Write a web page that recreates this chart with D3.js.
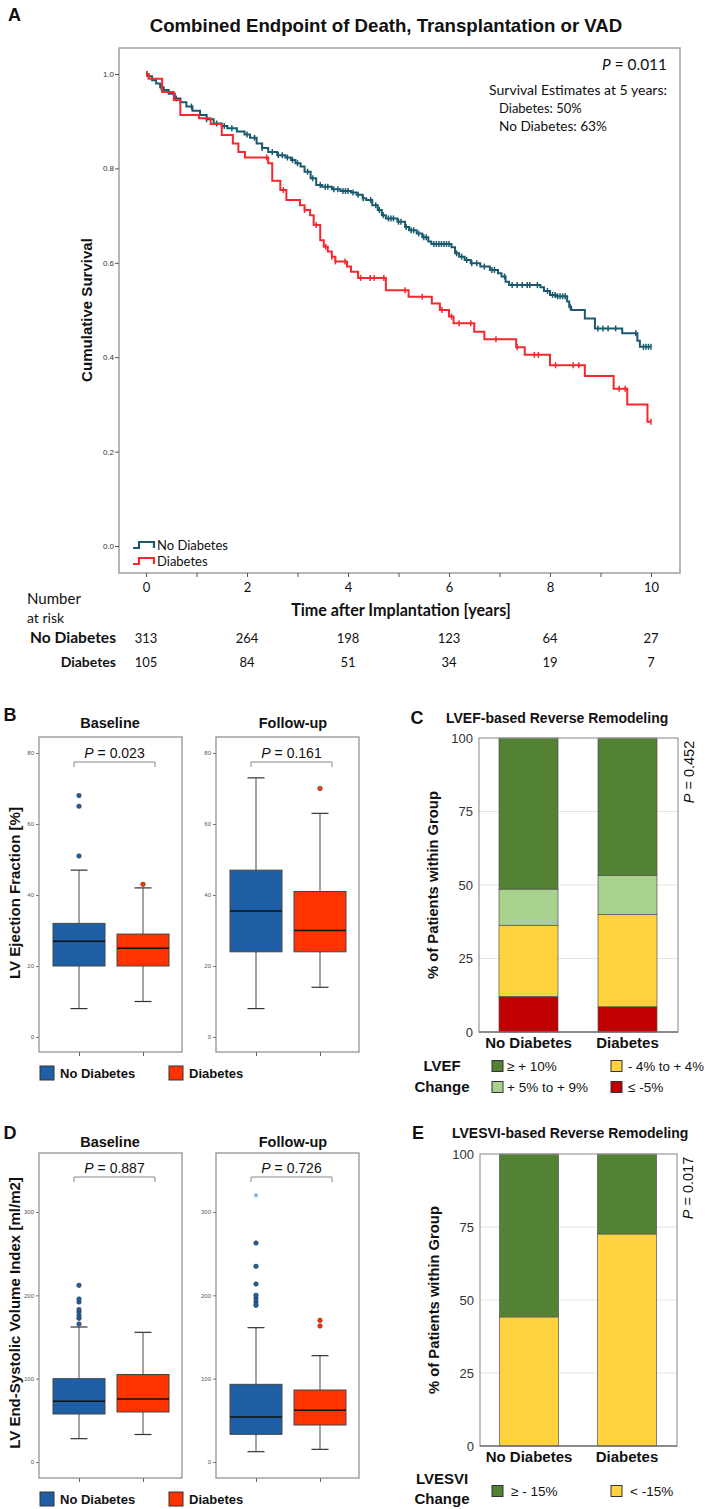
<!DOCTYPE html>
<html><head><meta charset="utf-8">
<script src="https://cdn.jsdelivr.net/npm/d3@7"></script>
<style>body{margin:0;background:#fff} svg{display:block}</style>
</head><body>
<svg id="c" width="709" height="1509"></svg>
<script>
// ================= DATA =================
// Panel A: Kaplan-Meier
const kmTimeTicks = [0,1,2,3,4,5,6,7,8,9,10];
const kmSurvTicks = [0,0.2,0.4,0.6,0.8,1.0];
const kmEnd = 10;
const kmNoDiabSteps = [[0,1.0],[0.05,0.995],[0.12,0.987],[0.2,0.98],[0.28,0.972],[0.35,0.966],[0.45,0.958],[0.57,0.948],[0.68,0.94],[0.8,0.931],[0.92,0.922],[1.07,0.913],[1.2,0.904],[1.34,0.895],[1.5,0.89],[1.61,0.885],[1.8,0.878],[1.95,0.872],[2.06,0.865],[2.19,0.853],[2.3,0.843],[2.42,0.835],[2.6,0.828],[2.76,0.823],[2.87,0.818],[2.96,0.811],[3.06,0.804],[3.14,0.793],[3.26,0.779],[3.37,0.765],[3.49,0.761],[3.68,0.756],[3.85,0.752],[4.06,0.749],[4.17,0.744],[4.29,0.737],[4.36,0.733],[4.48,0.722],[4.59,0.712],[4.67,0.701],[4.75,0.694],[4.98,0.687],[5.13,0.676],[5.21,0.669],[5.36,0.662],[5.47,0.654],[5.59,0.645],[5.65,0.640],[6.05,0.633],[6.12,0.620],[6.2,0.613],[6.31,0.606],[6.43,0.599],[6.62,0.592],[6.81,0.585],[6.97,0.578],[7.04,0.571],[7.12,0.560],[7.19,0.553],[7.81,0.548],[7.88,0.540],[8.0,0.532],[8.12,0.529],[8.34,0.518],[8.38,0.507],[8.42,0.500],[8.69,0.482],[8.89,0.461],[9.43,0.451],[9.73,0.435],[9.78,0.422]];
const kmDiabSteps = [[0,1.0],[0.05,0.99],[0.32,0.962],[0.55,0.945],[0.68,0.913],[1.05,0.906],[1.28,0.894],[1.5,0.871],[1.72,0.853],[1.83,0.835],[1.96,0.823],[2.42,0.811],[2.5,0.774],[2.66,0.754],[2.78,0.733],[3.05,0.722],[3.14,0.712],[3.25,0.701],[3.32,0.680],[3.45,0.648],[3.52,0.634],[3.60,0.624],[3.68,0.613],[3.75,0.603],[3.98,0.592],[4.06,0.581],[4.2,0.568],[4.75,0.542],[5.2,0.528],[5.66,0.514],[5.82,0.500],[6.0,0.486],[6.09,0.472],[6.5,0.454],[6.7,0.438],[7.33,0.421],[7.5,0.405],[8.0,0.383],[8.69,0.360],[9.26,0.333],[9.53,0.300],[9.93,0.263]];
const kmNoDiabCensor = [0.02,0.3,0.6,0.9,1.2,1.4,1.55,1.7,2.0,2.15,2.3,2.5,2.62,2.7,2.8,2.9,3.0,3.2,3.3,3.45,3.55,3.6,3.72,3.8,3.9,3.95,4.0,4.1,4.2,4.3,4.45,4.55,4.62,4.7,4.8,4.85,4.9,5.0,5.05,5.15,5.25,5.3,5.4,5.5,5.55,5.7,5.75,5.8,5.85,5.9,5.95,6.0,6.15,6.25,6.35,6.45,6.55,6.7,6.85,6.9,7.1,7.25,7.35,7.45,7.55,7.6,7.75,7.95,8.05,8.1,8.15,8.2,8.25,8.3,8.4,8.95,9.05,9.15,9.3,9.7,9.85,9.9,9.95,10.0];
const kmDiabCensor = [0.02,2.39,2.72,3.14,3.37,3.56,3.68,3.75,3.94,4.25,4.44,4.52,4.71,5.13,5.47,5.86,6.05,6.2,6.43,6.93,7.35,7.69,7.77,8.11,8.46,8.57,9.37,9.49,10.0];
const riskTimes = [0,2,4,6,8,10];
const riskNoDiab = [313,264,198,123,64,27];
const riskDiab = [105,84,51,34,19,7];

// Panels B and D: box plots [min, Q1, median, Q3, max]
const boxGroups = ["No Diabetes","Diabetes"];
const efTicks = [0,20,40,60,80];
const efBaseline = [[8,20,27,32,47],[10,20,25,29,42]];
const efBaselineOut = [[51,65,68],[43]];
const efFollow = [[8,24,35.5,47,73],[14,24,30,41,63]];
const efFollowOut = [[],[70]];
const esviTicks = [0,100,200,300];
const esviBaseline = [[28,57.6,73,100,162],[33,60,75.6,105,155.6]];
const esviBaselineOut = [[165.6,172.4,175.6,180,182.8,192,195.6,212],[]];
const esviFollow = [[12.4,33.2,54,93.2,161.2],[15.2,44.4,62,86.4,127.6]];
const esviFollowOut = [[188,192,196,200,213.6,234.8,262.8],[163.2,170]];
const esviFollowExtreme = [[320],[]];

// Panels C and E: stacked percentages
const barGroups = ["No Diabetes","Diabetes"];
const pctTicks = [0,25,50,75,100];
const lvefCats = ["≤ -5%","- 4% to + 4%","+ 5% to + 9%","≥ + 10%"];
const lvefNoDiab = [12.1,24.2,12.3,51.4];
const lvefDiab = [8.6,31.4,13.2,46.8];
const lvesviCats = ["< -15%","≥ - 15%"];
const lvesviNoDiab = [44.2,55.8];
const lvesviDiab = [72.6,27.4];

// ================= DRAW =================
const svg = d3.select("#c");
const ARIAL = "'Liberation Sans', Arial, sans-serif";
const CAL = "Lato, 'Open Sans', sans-serif";
const TEAL = "#1b5a6e", KMRED = "#f5282d";
const BLUE = "#1f5fa5", ORANGE = "#ff3300";
const catColor = {"≤ -5%":"#c00000","- 4% to + 4%":"#ffd23f","+ 5% to + 9%":"#a9d18e","≥ + 10%":"#548235","< -15%":"#ffd23f","≥ - 15%":"#548235"};

function fit(t, w){ const L=t.node().getComputedTextLength(); const fs=parseFloat(t.attr("font-size")); if(L>0) t.attr("font-size", fs*w/L); return t; }
function txt(x,y,s,o={}){
  const t = svg.append("text").attr("x",x).attr("y",y).attr("dy","0.35em")
    .attr("font-family",o.ff||ARIAL).attr("font-size",o.fs||12)
    .attr("font-weight",o.fw||"normal").attr("fill",o.fill||"#111")
    .attr("text-anchor",o.anchor||"start").text(s);
  if(o.rot) t.attr("transform",`rotate(${o.rot},${x},${y})`);
  if(o.w) fit(t,o.w);
  return t;
}
function pText(x,y,val,o={}){
  const t = svg.append("text").attr("x",x).attr("y",y).attr("dy","0.35em")
    .attr("font-family",o.ff||ARIAL).attr("font-size",o.fs||14).attr("fill","#111")
    .attr("text-anchor",o.anchor||"middle");
  t.append("tspan").attr("font-style","italic").text("P");
  t.append("tspan").text(" = "+val);
  if(o.rot) t.attr("transform",`rotate(${o.rot},${x},${y})`);
  if(o.w) fit(t,o.w);
  return t;
}

// ---------- Panel A ----------
txt(8,15,"A",{fs:18,fw:"bold"});
txt(386,25,"Combined Endpoint of Death, Transplantation or VAD",{fs:18,fw:"bold",anchor:"middle",w:473});
const A = {l:119,r:680,t:48,b:573};
const ax = d3.scaleLinear().domain([0,10]).range([146,651]);
const ay = d3.scaleLinear().domain([0,1]).range([546,74]);
svg.append("rect").attr("x",A.l).attr("y",A.t).attr("width",A.r-A.l).attr("height",A.b-A.t)
  .attr("fill","none").attr("stroke","#a0a0a0").attr("stroke-width",1.5);
const gxa = svg.append("g").attr("transform",`translate(0,${A.b})`)
  .call(d3.axisBottom(ax).tickValues(kmTimeTicks).tickSize(4).tickPadding(6).tickFormat(d=>d%2?"":d));
gxa.select(".domain").remove();
gxa.selectAll("line").attr("stroke","#555");
gxa.selectAll("text").attr("font-family",CAL).attr("font-size",13).attr("fill","#111");
const gya = svg.append("g").attr("transform",`translate(${A.l},0)`)
  .call(d3.axisLeft(ay).tickValues(kmSurvTicks).tickSize(4).tickPadding(1).tickFormat(d3.format(".1f")));
gya.select(".domain").remove();
gya.selectAll("line").attr("stroke","#555");
gya.selectAll("text").attr("font-family",ARIAL).attr("font-size",8).attr("fill","#333");

txt(87,310,"Cumulative Survival",{fs:15,fw:"bold",anchor:"middle",rot:-90,w:144});
txt(401,610,"Time after Implantation [years]",{ff:CAL,fs:14,fw:"bold",anchor:"middle",w:220});

const kmLine = d3.line().x(d=>ax(d[0])).y(d=>ay(d[1])).curve(d3.curveStepAfter);
function stepAt(steps,t){ let s=steps[0][1]; for(const p of steps){ if(p[0]<=t) s=p[1]; } return s; }
function drawKM(steps,censor,color){
  const pts = steps.concat([[kmEnd, steps[steps.length-1][1]]]);
  svg.append("path").datum(pts).attr("d",kmLine).attr("fill","none").attr("stroke",color).attr("stroke-width",2);
  svg.append("g").selectAll("line").data(censor).join("line")
    .attr("x1",d=>ax(d)).attr("x2",d=>ax(d))
    .attr("y1",d=>ay(stepAt(steps,d))-3).attr("y2",d=>ay(stepAt(steps,d))+3)
    .attr("stroke",color).attr("stroke-width",1.5);
}
drawKM(kmNoDiabSteps,kmNoDiabCensor,TEAL);
drawKM(kmDiabSteps,kmDiabCensor,KMRED);

pText(667,65,"0.011",{ff:CAL,fs:15,anchor:"end",w:65});
txt(667,90,"Survival Estimates at 5 years:",{ff:CAL,fs:13,anchor:"end",w:178});
txt(499,108,"Diabetes: 50%",{ff:CAL,fs:13});
txt(499,126,"No Diabetes: 63%",{ff:CAL,fs:13,w:108});

// legend inside A
[["No Diabetes",TEAL,545],["Diabetes",KMRED,561]].forEach(([lab,col,y])=>{
  svg.append("path").attr("d",`M133,${y+3}H139V${y-3}H154V${y+3}`).attr("fill","none").attr("stroke",col).attr("stroke-width",2.2);
  txt(157,y,lab,{ff:CAL,fs:13});
});

// number at risk
txt(27,599,"Number",{ff:CAL,fs:14,w:54});
txt(27,618,"at risk",{ff:CAL,fs:14});
txt(116,638,"No Diabetes",{ff:CAL,fs:14,fw:"bold",anchor:"end",w:86});
txt(116,662,"Diabetes",{ff:CAL,fs:14,fw:"bold",anchor:"end"});
riskTimes.forEach((t,i)=>{
  txt(ax(t),638,riskNoDiab[i],{ff:CAL,fs:13,anchor:"middle"});
  txt(ax(t),662,riskDiab[i],{ff:CAL,fs:13,anchor:"middle"});
});

// ---------- Box plot panels (B, D) ----------
function boxPanel(o){
  svg.append("rect").attr("x",o.x0).attr("y",o.t).attr("width",o.x1-o.x0).attr("height",o.b-o.t)
    .attr("fill","none").attr("stroke","#8a8a8a").attr("stroke-width",1.2);
  const gy = svg.append("g").attr("transform",`translate(${o.x0},0)`)
    .call(d3.axisLeft(o.y).tickValues(o.ticks).tickSize(3).tickPadding(2));
  gy.select(".domain").remove();
  gy.selectAll("line").attr("stroke","#777");
  gy.selectAll("text").attr("font-family",ARIAL).attr("font-size",6).attr("fill","#555");
  const x = d3.scalePoint().domain(boxGroups).range([o.x0+40,o.x0+104]);
  const gx = svg.append("g").attr("transform",`translate(0,${o.b})`)
    .call(d3.axisBottom(x).tickSize(4).tickFormat(""));
  gx.select(".domain").remove();
  gx.selectAll("line").attr("stroke","#666");
  const bw = 52, cw = 17;
  boxGroups.forEach((g,i)=>{
    const [mn,q1,md,q3,mx] = o.stats[i], cx = x(g), col = i===0?BLUE:ORANGE;
    const gg = svg.append("g");
    gg.append("line").attr("x1",cx).attr("x2",cx).attr("y1",o.y(mx)).attr("y2",o.y(q3)).attr("stroke","#666").attr("stroke-width",1.2);
    gg.append("line").attr("x1",cx).attr("x2",cx).attr("y1",o.y(q1)).attr("y2",o.y(mn)).attr("stroke","#666").attr("stroke-width",1.2);
    [mn,mx].forEach(v=>gg.append("line").attr("x1",cx-cw/2).attr("x2",cx+cw/2).attr("y1",o.y(v)).attr("y2",o.y(v)).attr("stroke","#333").attr("stroke-width",1.2));
    gg.append("rect").attr("x",cx-bw/2).attr("y",o.y(q3)).attr("width",bw).attr("height",o.y(q1)-o.y(q3))
      .attr("fill",col).attr("stroke","#444").attr("stroke-width",1);
    gg.append("line").attr("x1",cx-bw/2).attr("x2",cx+bw/2).attr("y1",o.y(md)).attr("y2",o.y(md)).attr("stroke","#111").attr("stroke-width",1.5);
    gg.selectAll("circle").data(o.outs[i]).join("circle").attr("cx",cx).attr("cy",d=>o.y(d)).attr("r",2.3)
      .attr("fill",col).attr("stroke","#333").attr("stroke-width",0.5);
    if(o.ext) gg.selectAll("path.ext").data(o.ext[i]).join("path").attr("class","ext")
      .attr("transform",d=>`translate(${cx},${o.y(d)})`).attr("d",d3.symbol(d3.symbolAsterisk,12)())
      .attr("stroke","#5b9bd5").attr("stroke-width",1).attr("fill","none");
  });
  txt(o.titleX,o.titleY,o.title,{fs:14.5,fw:"bold",anchor:"middle"});
  const bx1 = x(boxGroups[0])-5, bx2 = x(boxGroups[1])+12;
  svg.append("path").attr("d",`M${bx1},${o.brY+5}V${o.brY}H${bx2}V${o.brY+5}`).attr("fill","none").attr("stroke","#888").attr("stroke-width",1);
  pText((bx1+bx2)/2,o.brY-9,o.p,{fs:14});
}
function boxLegend(y){
  [["No Diabetes",BLUE,40,60],["Diabetes",ORANGE,169,189]].forEach(([lab,col,sx,tx])=>{
    svg.append("rect").attr("x",sx).attr("y",y-7).attr("width",14).attr("height",14).attr("fill",col).attr("stroke","#333").attr("stroke-width",1);
    txt(tx,y,lab,{fs:13,fw:"bold"});
  });
}
// B
txt(10,715,"B",{fs:18,fw:"bold",anchor:"middle"});
const yEF = d3.scaleLinear().domain([0,80]).range([1037,753]);
boxPanel({x0:39,x1:182,t:737,b:1052,y:yEF,ticks:efTicks,stats:efBaseline,outs:efBaselineOut,title:"Baseline",titleX:110,titleY:723,p:"0.023",brY:762});
boxPanel({x0:216,x1:359,t:737,b:1052,y:yEF,ticks:efTicks,stats:efFollow,outs:efFollowOut,title:"Follow-up",titleX:293,titleY:723,p:"0.161",brY:762});
txt(15,893,"LV Ejection Fraction [%]",{fs:15,fw:"bold",anchor:"middle",rot:-90,w:172});
boxLegend(1073);
// D
txt(10,1133,"D",{fs:18,fw:"bold",anchor:"middle"});
const yES = d3.scaleLinear().domain([0,300]).range([1462,1212]);
boxPanel({x0:39,x1:182,t:1153,b:1478,y:yES,ticks:esviTicks,stats:esviBaseline,outs:esviBaselineOut,title:"Baseline",titleX:110,titleY:1142,p:"0.887",brY:1177});
boxPanel({x0:216,x1:359,t:1153,b:1478,y:yES,ticks:esviTicks,stats:esviFollow,outs:esviFollowOut,ext:esviFollowExtreme,title:"Follow-up",titleX:293,titleY:1142,p:"0.726",brY:1177});
txt(15,1313,"LV End-Systolic Volume Index [ml/m2]",{fs:15,fw:"bold",anchor:"middle",rot:-90,w:272});
boxLegend(1499);

// ---------- Stacked bar panels (C, E) ----------
function stackPanel(o){
  const y = d3.scaleLinear().domain([0,100]).range([o.b,o.t]);
  const x = d3.scalePoint().domain(barGroups).range([o.c0,o.c1]);
  const bw = 59;
  svg.append("g").selectAll("line").data(pctTicks.filter(d=>d>0&&d<100)).join("line")
    .attr("x1",o.l).attr("x2",o.r).attr("y1",d=>y(d)).attr("y2",d=>y(d)).attr("stroke","#e4e4e4").attr("stroke-width",1);
  const rows = barGroups.map((g,i)=>{ const r={group:g}; o.cats.forEach((c,j)=>r[c]=o.vals[i][j]); return r; });
  const series = d3.stack().keys(o.cats)(rows);
  svg.append("g").selectAll("g").data(series).join("g").attr("fill",s=>catColor[s.key])
    .selectAll("rect").data(s=>s).join("rect")
    .attr("x",d=>x(d.data.group)-bw/2).attr("width",bw)
    .attr("y",d=>y(d[1])).attr("height",d=>y(d[0])-y(d[1]))
    .attr("stroke","#555").attr("stroke-width",0.7);
  svg.append("rect").attr("x",o.l).attr("y",o.t).attr("width",o.r-o.l).attr("height",o.b-o.t)
    .attr("fill","none").attr("stroke","#9a9a9a").attr("stroke-width",1.2);
  svg.append("line").attr("x1",o.l).attr("x2",o.r).attr("y1",o.b).attr("y2",o.b).attr("stroke","#555").attr("stroke-width",1.2);
  const gy = svg.append("g").attr("transform",`translate(${o.l},0)`)
    .call(d3.axisLeft(y).tickValues(pctTicks).tickSize(0).tickPadding(6));
  gy.select(".domain").remove();
  gy.selectAll("text").attr("font-family",ARIAL).attr("font-size",13).attr("fill","#333");
  barGroups.forEach(g=>txt(x(g),o.b+11,g,{fs:15,fw:"bold",anchor:"middle"}));
  txt(o.l-46,(o.t+o.b)/2,"% of Patients within Group",{fs:14,fw:"bold",anchor:"middle",rot:-90,w:188});
  pText(o.r+11,o.pY,o.p,{fs:14.5,rot:-90});
  txt(o.letterX,o.titleY,o.letter,{fs:18,fw:"bold",anchor:"middle"});
  txt(o.titleX,o.titleY,o.title,{fs:14,fw:"bold"});
}
stackPanel({l:479,r:678,t:738,b:1032,c0:528.5,c1:627.5,cats:lvefCats,vals:[lvefNoDiab,lvefDiab],p:"0.452",pY:772,
  letter:"C",letterX:417,title:"LVEF-based Reverse Remodeling",titleX:446,titleY:718});
stackPanel({l:480,r:677,t:1154,b:1446,c0:529,c1:627,cats:lvesviCats,vals:[lvesviNoDiab,lvesviDiab],p:"0.017",pY:1188,
  letter:"E",letterX:418,title:"LVESVI-based Reverse Remodeling",titleX:452,titleY:1133});

function catLegend(items){
  items.forEach(([cat,sx,tx,y])=>{
    svg.append("rect").attr("x",sx).attr("y",y-5.5).attr("width",11).attr("height",11).attr("fill",catColor[cat]).attr("stroke","#333").attr("stroke-width",1);
    const t = txt(tx,y,cat,{fs:13.5});
    if(t.node().getComputedTextLength() > 704-tx) fit(t,704-tx);
  });
}
txt(442,1066,"LVEF",{fs:15,fw:"bold",anchor:"middle"});
txt(442,1087,"Change",{fs:15,fw:"bold",anchor:"middle"});
catLegend([[lvefCats[3],492,507,1066],[lvefCats[1],611,628,1066],[lvefCats[2],492,507,1087],[lvefCats[0],611,628,1087]]);
txt(442,1479,"LVESVI",{fs:15,fw:"bold",anchor:"middle"});
txt(442,1499,"Change",{fs:15,fw:"bold",anchor:"middle"});
catLegend([[lvesviCats[1],492,511,1491],[lvesviCats[0],611,630,1491]]);
</script></body></html>
